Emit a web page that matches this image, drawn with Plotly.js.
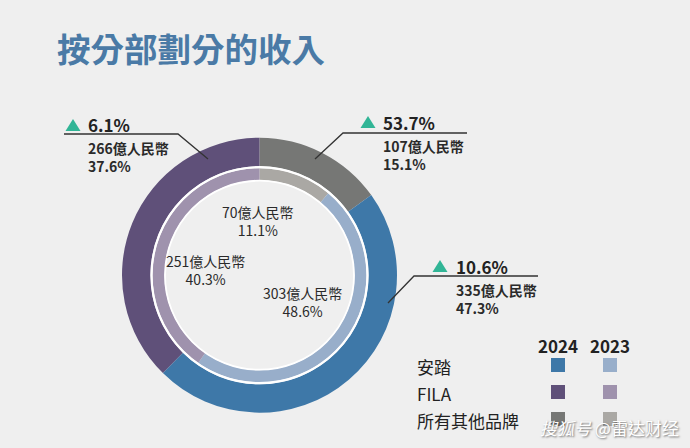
<!DOCTYPE html>
<html><head><meta charset="utf-8">
<script src="https://cdn.plot.ly/plotly-3.0.1.min.js"></script>
<style>html,body{margin:0;padding:0;background:#efefef;}#chart{width:690px;height:448px;}</style>
</head><body><div id="chart"></div>
<script>
// ---- data ----
const brands = ['所有其他品牌', '安踏', 'FILA'];
const share2024 = [15.1, 47.3, 37.6];
const share2023 = [11.1, 48.6, 40.3];
const rev2024 = [107, 335, 266];
const rev2023 = [70, 303, 251];
const growth = [53.7, 10.6, 6.1];
const years = ['2024', '2023'];
const legendBrands = ['安踏', 'FILA', '所有其他品牌'];

const colors2024 = ['#767775', '#3e78a8', '#5f5079'];
const colors2023 = ['#aaa8a4', '#98aeca', '#9f92ad'];

const W = 690, H = 448;
const px = x => x / W, py = y => 1 - y / H;
const CX = 259.5, CY = 275.2;
const R1 = 137.5, R1in = 109, R2 = 107, R2in = 95;
const FONT = '"Noto Sans CJK TC", "Noto Sans", sans-serif';

function dom(r) { return {x: [px(CX - r), px(CX + r)], y: [py(CY + r), py(CY - r)]}; }

const traces = [
  {type: 'pie', values: share2024, labels: brands, sort: false, direction: 'clockwise', rotation: 0,
   hole: R1in / R1, domain: dom(R1), marker: {colors: colors2024, line: {width: 0}},
   textinfo: 'none', hoverinfo: 'none', showlegend: false},
  {type: 'pie', values: share2023, labels: brands, sort: false, direction: 'clockwise', rotation: 0,
   hole: R2in / R2, domain: dom(R2), marker: {colors: colors2023, line: {width: 0}},
   textinfo: 'none', hoverinfo: 'none', showlegend: false}
];

const shapes = [];
const annotations = [];

// white separator rings
[[108, 2.2], [94.5, 1.8]].forEach(([r, w]) => shapes.push({type: 'circle', xref: 'paper', yref: 'paper',
  x0: px(CX - r), x1: px(CX + r), y0: py(CY + r), y1: py(CY - r), line: {color: '#ffffff', width: w}, layer: 'above'}));

// outer callouts (order: others, 安踏, FILA)
const callouts = [
  {tri: [368, 128], tx: 383, ty: 122, line: [[315, 159], [343, 133], [467, 133]]},
  {tri: [440, 272], tx: 456, ty: 266, line: [[388, 303], [414, 276], [538, 276]]},
  {tri: [73, 131], tx: 88, ty: 124, line: [[208, 159], [178, 134], [64, 134]]}
];
callouts.forEach((c, i) => {
  const [tx0, ty0] = c.tri;
  shapes.push({type: 'path', xref: 'paper', yref: 'paper', fillcolor: '#31b596', line: {width: 0},
    path: `M ${px(tx0 - 7.5)} ${py(ty0)} L ${px(tx0 + 7.5)} ${py(ty0)} L ${px(tx0)} ${py(ty0 - 12)} Z`});
  const p = c.line.map(([x, y]) => `${px(x)} ${py(y)}`);
  shapes.push({type: 'path', xref: 'paper', yref: 'paper', line: {color: '#333333', width: 1.3},
    path: `M ${p[0]} L ${p[1]} L ${p[2]}`});
  annotations.push({xref: 'paper', yref: 'paper', x: px(c.tx - 2), y: py(c.ty), xanchor: 'left', yanchor: 'middle',
    showarrow: false, text: `<b>${growth[i].toFixed(1)}%</b>`, font: {family: FONT, size: 17, color: '#222222'}});
  annotations.push({xref: 'paper', yref: 'paper', x: px(c.tx - 2), y: py(c.ty + 33), xanchor: 'left', yanchor: 'middle',
    showarrow: false, align: 'left', text: `<b>${rev2024[i]}億人民幣<br>${share2024[i].toFixed(1)}%</b>`,
    font: {family: FONT, size: 14, color: '#2a2a2a'}});
});

// inner labels (2023)
const innerPos = [[258, 221], [302, 302], [205, 270]];
innerPos.forEach(([x, y], i) => annotations.push({xref: 'paper', yref: 'paper', x: px(x), y: py(y),
  xanchor: 'center', yanchor: 'middle', showarrow: false, text: `${rev2023[i]}億人民幣<br>${share2023[i].toFixed(1)}%`,
  font: {family: FONT, size: 14, color: '#2a2a2a'}}));

// title
annotations.push({xref: 'paper', yref: 'paper', x: px(55), y: py(47), xanchor: 'left', yanchor: 'middle', showarrow: false,
  text: '<b>按分部劃分的收入</b>', font: {family: FONT, size: 33.5, color: '#4a7aa6'}});

// legend
const colX = [558, 610], rowY = [365, 392, 419];
const legMap = [1, 2, 0]; // 安踏, FILA, others index into brands
years.forEach((yr, j) => annotations.push({xref: 'paper', yref: 'paper', x: px(colX[j]), y: py(345), xanchor: 'center',
  yanchor: 'middle', showarrow: false, text: `<b>${yr}</b>`, font: {family: FONT, size: 17, color: '#222222'}}));
legendBrands.forEach((b, k) => {
  annotations.push({xref: 'paper', yref: 'paper', x: px(415), y: py(rowY[k] + 1), xanchor: 'left', yanchor: 'middle',
    showarrow: false, text: b, font: {family: FONT, size: 17, color: '#222222'}});
  [colors2024, colors2023].forEach((cols, j) => shapes.push({type: 'rect', xref: 'paper', yref: 'paper',
    x0: px(colX[j] - 7), x1: px(colX[j] + 7), y0: py(rowY[k] + 7), y1: py(rowY[k] - 7),
    fillcolor: cols[legMap[k]], line: {width: 0}}));
});

// watermark
annotations.push({xref: 'paper', yref: 'paper', x: px(681), y: py(427), xanchor: 'right', yanchor: 'middle', showarrow: false,
  text: '<i>搜狐号</i> @雷达财经', font: {family: FONT, size: 17, color: '#ffffff', shadow: '1px 1px 2px rgba(0,0,0,0.55)'}});

const layout = {width: W, height: H, margin: {l: 0, r: 0, t: 0, b: 0}, paper_bgcolor: '#efefef', plot_bgcolor: '#efefef',
  showlegend: false, shapes, annotations};

Plotly.newPlot('chart', traces, layout, {staticPlot: true, displayModeBar: false});
</script></body></html>
